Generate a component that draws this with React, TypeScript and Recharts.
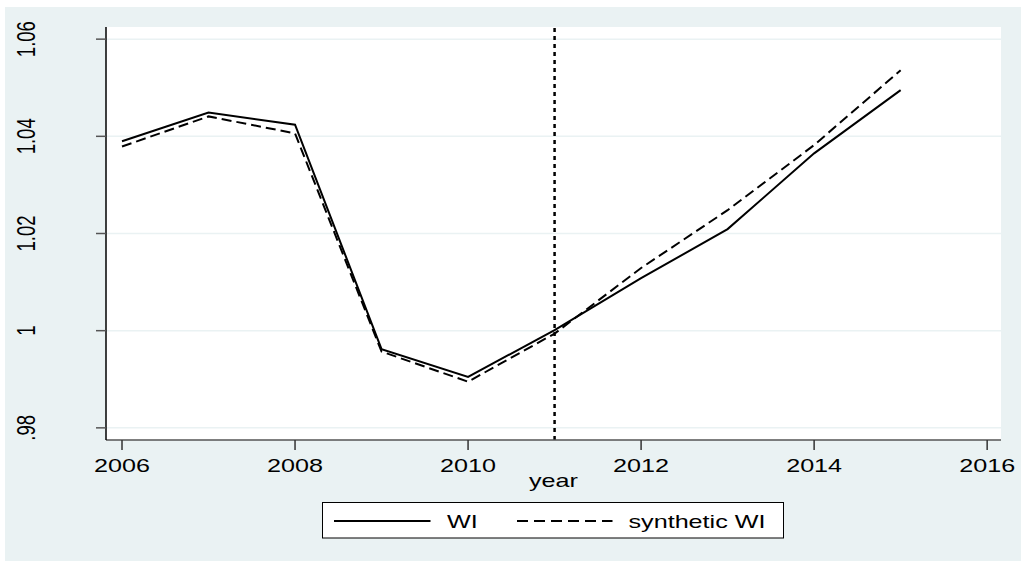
import React from 'react';
import {
  LineChart,
  Line,
  XAxis,
  YAxis,
  CartesianGrid,
  ReferenceLine,
} from 'recharts';

// values
const years = [2006, 2007, 2008, 2009, 2010, 2011, 2012, 2013, 2014, 2015];
const wi = [1.039, 1.0449, 1.0424, 0.9962, 0.9905, 1.0001, 1.0108, 1.0209, 1.0365, 1.0495];
const syntheticWi = [1.0379, 1.0441, 1.0406, 0.9957, 0.9895, 0.9994, 1.0129, 1.0248, 1.0382, 1.0536];
const xTicks = [2006, 2008, 2010, 2012, 2014, 2016];
const yTicks = [0.98, 1.0, 1.02, 1.04, 1.06];
const treatYear = 2011;
const seriesNames = ['WI', 'synthetic WI'];

const FONT = '"Liberation Sans", Arial, sans-serif';
const BG = '#EAF2F3';
// the reference's text is stretched sideways (Stata export)
const SX = 1.36;

const chartData = years.map((year, i) => ({ year, wi: wi[i], synth: syntheticWi[i] }));

// Stata style labels: ".98", "1", "1.02"
const fmtY = (v: number) => {
  if (v === 1) return '1';
  const s = v.toFixed(2);
  return s.startsWith('0') ? s.slice(1) : s;
};

const StretchText = ({ x, y, rotate = 0, anchor = 'middle', children }: any) => (
  <text
    transform={`translate(${x}, ${y}) scale(${SX}, 1) rotate(${rotate})`}
    textAnchor={anchor}
    fontSize={18.5}
    fontFamily={FONT}
    fill="#000"
  >
    {children}
  </text>
);

const YTick = ({ y, payload }: any) => (
  <StretchText x={35} y={y} rotate={-90}>{fmtY(payload.value)}</StretchText>
);

const XTick = ({ x, y, payload }: any) => (
  <StretchText x={x} y={y + 19.5}>{payload.value}</StretchText>
);

const YearLabel = ({ viewBox }: any) => (
  <StretchText x={viewBox.x + viewBox.width / 2} y={viewBox.y + 46.5}>year</StretchText>
);

export default function App() {
  return (
    <div style={{ position: 'absolute', left: 0, top: 0, width: 1021, height: 561, background: '#fff' }}>
      <div style={{ position: 'absolute', left: 5, top: 7, width: 1016, height: 554, background: BG }} />
      <div style={{ position: 'absolute', left: 0, top: 0 }}>
        <LineChart
          width={1021}
          height={561}
          data={chartData}
          margin={{ top: 27, right: 20, left: 0, bottom: 81 }}
        >
          <CartesianGrid horizontal vertical={false} fill="#fff" stroke={BG} strokeWidth={1.5} horizontalValues={yTicks} />
          <XAxis
            dataKey="year"
            type="number"
            domain={[2005.815, 2016.16]}
            ticks={xTicks}
            height={40}
            tickSize={10}
            axisLine={{ stroke: '#555', strokeWidth: 1.5 }}
            tickLine={{ stroke: '#333', strokeWidth: 1.5 }}
            tick={<XTick />}
            label={<YearLabel />}
          />
          <YAxis
            type="number"
            domain={[0.9775, 1.0625]}
            ticks={yTicks}
            width={106}
            tickSize={10}
            axisLine={{ stroke: '#000', strokeWidth: 1.5 }}
            tickLine={{ stroke: '#555', strokeWidth: 1.5 }}
            tick={<YTick />}
          />
          <ReferenceLine x={treatYear} stroke="#000" strokeWidth={2.5} strokeDasharray="4 4" />
          <Line
            dataKey="wi"
            name={seriesNames[0]}
            stroke="#000"
            strokeWidth={2}
            dot={false}
            isAnimationActive={false}
          />
          <Line
            dataKey="synth"
            name={seriesNames[1]}
            stroke="#000"
            strokeWidth={2}
            strokeDasharray="10 5"
            dot={false}
            isAnimationActive={false}
          />
        </LineChart>
      </div>
      {/* legend box */}
      <svg width={463} height={37} style={{ position: 'absolute', left: 321.5, top: 502 }}>
        <rect x={0.5} y={0.5} width={461} height={35.5} fill="#fff" stroke="#000" strokeWidth={1} />
        <line x1={12} x2={108.5} y1={19} y2={19} stroke="#000" strokeWidth={2} />
        <line x1={195} x2={290.5} y1={19} y2={19} stroke="#000" strokeWidth={2} strokeDasharray="11 6" />
        <StretchText x={125} y={26} anchor="start">{seriesNames[0]}</StretchText>
        <StretchText x={306.5} y={26} anchor="start">{seriesNames[1]}</StretchText>
      </svg>
    </div>
  );
}
